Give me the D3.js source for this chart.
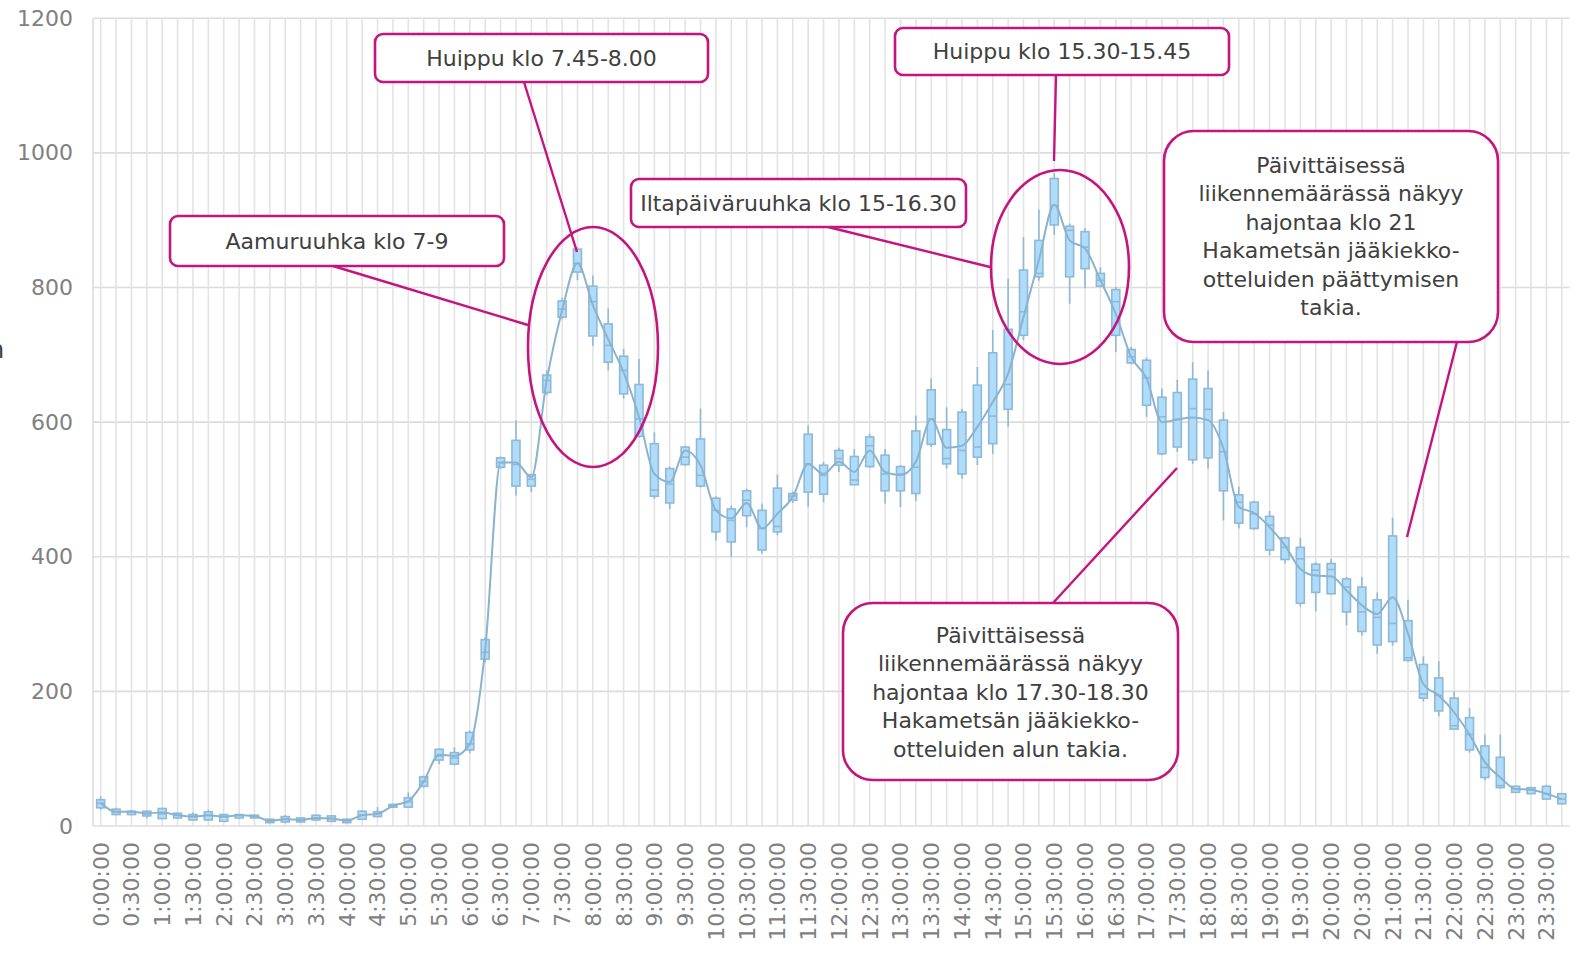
<!DOCTYPE html>
<html>
<head>
<meta charset="utf-8">
<script src="https://cdn.jsdelivr.net/npm/d3@7"></script>
<style>
  body { margin: 0; background: #fff; }
  svg { display: block; font-family: "DejaVu Sans", Verdana, sans-serif; }
</style>
</head>
<body>
<svg id="chart" width="1578" height="958"></svg>
<script>
// 15 min slots over the day
var times = [
 "0:00:00","0:15:00","0:30:00","0:45:00","1:00:00","1:15:00","1:30:00","1:45:00",
 "2:00:00","2:15:00","2:30:00","2:45:00","3:00:00","3:15:00","3:30:00","3:45:00",
 "4:00:00","4:15:00","4:30:00","4:45:00","5:00:00","5:15:00","5:30:00","5:45:00",
 "6:00:00","6:15:00","6:30:00","6:45:00","7:00:00","7:15:00","7:30:00","7:45:00",
 "8:00:00","8:15:00","8:30:00","8:45:00","9:00:00","9:15:00","9:30:00","9:45:00",
 "10:00:00","10:15:00","10:30:00","10:45:00","11:00:00","11:15:00","11:30:00","11:45:00",
 "12:00:00","12:15:00","12:30:00","12:45:00","13:00:00","13:15:00","13:30:00","13:45:00",
 "14:00:00","14:15:00","14:30:00","14:45:00","15:00:00","15:15:00","15:30:00","15:45:00",
 "16:00:00","16:15:00","16:30:00","16:45:00","17:00:00","17:15:00","17:30:00","17:45:00",
 "18:00:00","18:15:00","18:30:00","18:45:00","19:00:00","19:15:00","19:30:00","19:45:00",
 "20:00:00","20:15:00","20:30:00","20:45:00","21:00:00","21:15:00","21:30:00","21:45:00",
 "22:00:00","22:15:00","22:30:00","22:45:00","23:00:00","23:15:00","23:30:00","23:45:00"
];

var minVals = [24,16,16,12,11,11,8,8,6,11,11,4,4,5,8,6,4,9,13,27,27,57,92,90,
  108,243,531,491,496,640,753,811,713,677,635,577,486,471,535,503,424,400,444,405,432,480,
  474,481,526,507,532,479,474,483,563,531,516,536,553,593,722,810,878,776,799,800,
  704,686,608,551,556,538,531,454,442,440,402,390,326,319,345,298,283,256,268,244,
  185,163,144,109,68,56,50,48,40,33];
var q1Vals = [27,17,17,15,11,12,9,9,7,12,12,5,6,6,9,7,5,10,14,28,28,59,98,92,
  113,248,533,505,505,644,756,823,728,689,642,579,490,480,537,505,437,422,461,410,437,484,
  496,493,536,507,534,498,498,494,567,538,523,548,568,619,729,816,893,816,828,802,
  729,688,625,553,563,544,547,498,450,442,410,396,331,347,345,318,289,269,274,246,
  190,171,144,113,72,57,50,48,40,33];
var medianVals = [34,21,21,18,18,16,14,16,14,16,15,8,10,9,12,11,8,16,18,30,36,66,104,101,
  122,258,540,537,515,662,768,836,779,714,677,605,499,508,548,521,469,454,484,442,445,490,
  538,521,546,514,565,523,523,533,605,546,558,563,609,656,764,821,922,885,860,811,
  779,697,666,608,604,620,619,556,481,464,447,414,397,380,381,355,318,310,301,250,
  196,194,149,136,87,60,55,54,48,40];
var q3Vals = [39,25,22,22,26,19,17,21,17,17,16,10,14,12,16,15,10,22,21,32,42,73,114,109,
  139,277,547,573,522,670,780,857,802,746,698,656,568,531,563,575,487,471,498,469,502,494,
  582,536,558,549,578,551,534,587,648,589,615,655,703,738,826,870,962,891,883,821,
  797,708,692,637,644,664,650,603,492,481,460,428,414,389,390,367,355,336,431,305,
  240,220,190,161,119,102,59,57,59,48];
var maxVals = [44,27,24,23,27,20,20,24,18,18,17,11,16,13,17,16,11,23,28,33,50,75,115,117,
  142,280,549,603,523,677,785,860,818,769,709,694,585,534,565,620,490,476,501,479,522,497,
  595,541,562,560,583,560,536,610,665,622,620,682,737,813,875,916,970,895,888,830,
  801,712,696,650,663,689,677,615,504,483,468,430,428,392,397,370,370,347,458,336,
  252,245,200,175,136,136,60,58,61,48];
var meanVals = [34,21,21,19,20,16,14,16,14,16,15,7.5,10,9,12,11,8,16,18,30,37,66,106,104,
  122,262,540,540,518,662,766,836,774,723,674,608,523,511,558,536,469,457,480,442,464,489,
  538,523,541,526,558,526,521,541,605,562,565,593,630,672,756,841,923,870,858,811,
  761,697,665,600,604,607,603,561,474,465,444,417,382,372,371,350,328,315,340,286,
  211,194,169,136,95,72,55,54,48,40];

var yTicks = [0, 200, 400, 600, 800, 1000, 1200];

var notes = [
  {text: "Huippu klo 7.45-8.00", x: 375, y: 34, w: 333, h: 48, from: [524, 82], to: [577, 252]},
  {text: "Aamuruuhka klo 7-9", x: 170, y: 216, w: 334, h: 50, from: [333, 266], to: [528, 325]},
  {text: "Iltapäiväruuhka klo 15-16.30", x: 631, y: 179, w: 335, h: 48, from: [828, 227], to: [990, 267]},
  {text: "Huippu klo 15.30-15.45", x: 895, y: 28, w: 334, h: 47, from: [1056, 75], to: [1054, 161]}
];
var callouts = [
  {lines: ["Päivittäisessä", "liikennemäärässä näkyy", "hajontaa klo 21", "Hakametsän jääkiekko-",
           "otteluiden päättymisen", "takia."],
   x: 1164, y: 131, w: 334, h: 211, first: 173, from: [1457, 342], to: [1407, 537]},
  {lines: ["Päivittäisessä", "liikennemäärässä näkyy", "hajontaa klo 17.30-18.30",
           "Hakametsän jääkiekko-", "otteluiden alun takia."],
   x: 843, y: 603, w: 335, h: 177, first: 643, from: [1053, 603], to: [1177, 468]}
];
var rings = [
  {cx: 593, cy: 347, rx: 65, ry: 120},
  {cx: 1060, cy: 267, rx: 69, ry: 97}
];

var magenta = "#c4157f";
var svg = d3.select("#chart");

var x = d3.scaleBand().domain(times).range([93, 1569.5]);
var y = d3.scaleLinear().domain([0, 1200]).range([826, 18.3]);
var cx = function(i) { return x(times[i]) + x.bandwidth() / 2; };

// grid
svg.append("g").selectAll("line").data(yTicks).join("line")
  .attr("x1", 93).attr("x2", 1569.5)
  .attr("y1", function(d) { return y(d); }).attr("y2", function(d) { return y(d); })
  .style("stroke", "#dcdcdc").style("stroke-width", 1.6);
svg.append("g").selectAll("line").data(times).join("line")
  .attr("x1", function(d, i) { return cx(i); }).attr("x2", function(d, i) { return cx(i); })
  .attr("y1", y(1200)).attr("y2", y(0))
  .style("stroke", "#e3e3e3").style("stroke-width", 1.6);
svg.append("line").attr("x1", 93).attr("x2", 93).attr("y1", y(1200)).attr("y2", y(0))
  .style("stroke", "#dcdcdc").style("stroke-width", 1.6);

// y axis labels
var yAxis = svg.append("g").attr("transform", "translate(73,0)")
  .call(d3.axisLeft(y).tickValues(yTicks).tickFormat(d3.format("d")).tickSize(0).tickPadding(0));
yAxis.select(".domain").remove();
yAxis.selectAll("text").attr("x", 0).style("font-size", "22px").style("fill", "#808080")
  .style("font-family", "DejaVu Sans, sans-serif");

// x axis labels, every half hour
var xAxis = svg.append("g").attr("transform", "translate(0,842)")
  .call(d3.axisBottom(x).tickValues(times.filter(function(d, i) { return i % 2 === 0; }))
    .tickSize(0).tickPadding(0));
xAxis.select(".domain").remove();
xAxis.selectAll("text")
  .attr("transform", "rotate(-90)").attr("x", 0).attr("y", 0).attr("dy", "0.36em")
  .style("text-anchor", "end").style("font-size", "22px").style("fill", "#808080")
  .style("font-family", "DejaVu Sans, sans-serif");

// axis title, mostly outside the picture in the original
svg.append("text").attr("x", -11).attr("y", 358).text("h")
  .style("font-size", "24px").style("fill", "#404040");

// boxes
var boxColor = "#8fb9d6";
var bw = 8;
var g = svg.append("g").selectAll("g").data(times).join("g");
g.append("line")
  .attr("x1", function(d, i) { return cx(i); }).attr("x2", function(d, i) { return cx(i); })
  .attr("y1", function(d, i) { return y(maxVals[i]); }).attr("y2", function(d, i) { return y(minVals[i]); })
  .style("stroke", boxColor).style("stroke-width", 1.6);
g.append("rect")
  .attr("x", function(d, i) { return cx(i) - bw / 2; })
  .attr("width", bw)
  .attr("y", function(d, i) { return y(q3Vals[i]); })
  .attr("height", function(d, i) { return Math.max(2, y(q1Vals[i]) - y(q3Vals[i])); })
  .style("fill", "#aedcfa").style("stroke", boxColor).style("stroke-width", 1.6);
g.append("line")
  .attr("x1", function(d, i) { return cx(i) - bw / 2; }).attr("x2", function(d, i) { return cx(i) + bw / 2; })
  .attr("y1", function(d, i) { return y(medianVals[i]); }).attr("y2", function(d, i) { return y(medianVals[i]); })
  .style("stroke", boxColor).style("stroke-width", 1.6);

// mean line
var line = d3.line()
  .x(function(d, i) { return cx(i); })
  .y(function(d) { return y(d); })
  .curve(d3.curveMonotoneX);
svg.append("path").datum(meanVals).attr("d", line)
  .style("fill", "none").style("stroke", "#8ab3cf").style("stroke-width", 2);

// annotations
var ann = svg.append("g");
rings.forEach(function(r) {
  ann.append("ellipse").attr("cx", r.cx).attr("cy", r.cy).attr("rx", r.rx).attr("ry", r.ry)
    .style("fill", "none").style("stroke", magenta).style("stroke-width", 2.6);
});
notes.concat(callouts).forEach(function(n) {
  ann.append("line").attr("x1", n.from[0]).attr("y1", n.from[1]).attr("x2", n.to[0]).attr("y2", n.to[1])
    .style("stroke", magenta).style("stroke-width", 2.4);
});
notes.forEach(function(n) {
  ann.append("rect").attr("x", n.x).attr("y", n.y).attr("width", n.w).attr("height", n.h)
    .attr("rx", 8).style("fill", "#fff").style("stroke", magenta).style("stroke-width", 2.6);
  ann.append("text").attr("x", n.x + n.w / 2).attr("y", n.y + n.h / 2).attr("dy", "0.36em")
    .attr("text-anchor", "middle").text(n.text)
    .style("font-size", "22px").style("fill", "#404040");
});
callouts.forEach(function(c) {
  ann.append("rect").attr("x", c.x).attr("y", c.y).attr("width", c.w).attr("height", c.h)
    .attr("rx", 30).style("fill", "#fff").style("stroke", magenta).style("stroke-width", 2.6);
  ann.append("text").attr("text-anchor", "middle")
    .style("font-size", "22px").style("fill", "#404040")
    .selectAll("tspan").data(c.lines).join("tspan")
    .attr("x", c.x + c.w / 2)
    .attr("y", function(d, i) { return c.first + i * 28.4; })
    .text(function(d) { return d; });
});
</script>
</body>
</html>
